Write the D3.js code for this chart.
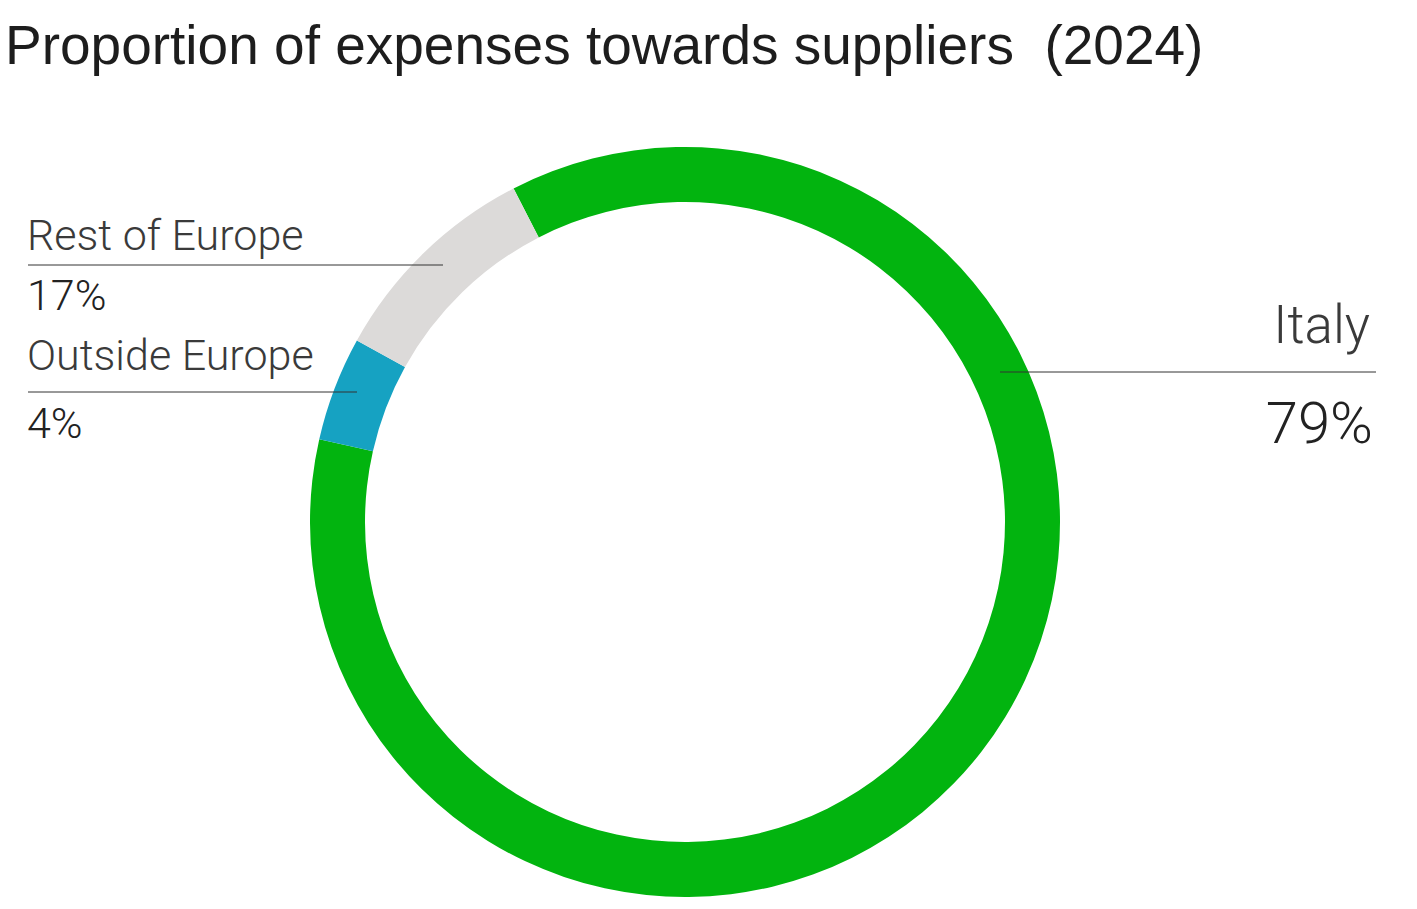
<!DOCTYPE html>
<html>
<head>
<meta charset="utf-8">
<script src="https://cdn.jsdelivr.net/npm/d3@7"></script>
<style>
  body { margin: 0; background: #fff; }
  svg { display: block; }
</style>
</head>
<body>
<svg id="chart"></svg>
<script>
// data
const categories = ["Italy", "Outside Europe", "Rest of Europe"];
const arcShares = [86.1, 4.5, 9.4];      // share of the ring as drawn (%)
const labelPcts = ["79%", "4%", "17%"];   // printed percentages
const colours = ["#02b40f", "#16a2c2", "#dcdad9"];

const width = 1417, height = 909;
const cx = 685, cy = 522;
const outerR = 375, innerR = 320;

const svg = d3.select("#chart")
  .attr("width", width)
  .attr("height", height);

// title
svg.append("text")
  .attr("x", 5)
  .attr("y", 64)
  .attr("font-family", "Liberation Sans, Arial, sans-serif")
  .attr("font-size", 55)
  .attr("fill", "#1d1d1d")
  .attr("xml:space", "preserve")
  .text("Proportion of expenses towards suppliers  (2024)");

// ring, starting at the grey/green seam and running clockwise
const pie = d3.pie()
  .sort(null)
  .startAngle(-27.2 * Math.PI / 180)
  .endAngle((360 - 27.2) * Math.PI / 180);

const arc = d3.arc().innerRadius(innerR).outerRadius(outerR);

svg.append("g")
  .attr("transform", "translate(" + cx + "," + cy + ")")
  .selectAll("path")
  .data(pie(arcShares))
  .enter()
  .append("path")
  .attr("d", arc)
  .attr("fill", function(d, i) { return colours[i]; });

// labels: name above a rule, percentage below
const labelLayout = [
  { anchor: "end",   x: 1370, nameY: 343, lineY: 372, x1: 1000, x2: 1376, pctY: 443, nameSize: 53, pctSize: 58 },
  { anchor: "start", x: 27,   nameY: 370, lineY: 392, x1: 28,   x2: 357,  pctY: 438, nameSize: 43, pctSize: 43 },
  { anchor: "start", x: 27,   nameY: 250, lineY: 265, x1: 28,   x2: 443,  pctY: 310, nameSize: 43, pctSize: 43 }
];

const labels = svg.append("g")
  .attr("font-family", "Roboto, Inter, sans-serif")
  .attr("font-weight", 300)
  .attr("fill", "#3a3a3a")
  .selectAll("g")
  .data(labelLayout)
  .enter()
  .append("g");

labels.append("line")
  .attr("x1", d => d.x1)
  .attr("x2", d => d.x2)
  .attr("y1", d => d.lineY)
  .attr("y2", d => d.lineY)
  .attr("stroke", "#333")
  .attr("stroke-width", 1);

labels.append("text")
  .attr("x", d => d.x)
  .attr("y", d => d.nameY)
  .attr("text-anchor", d => d.anchor)
  .attr("font-size", d => d.nameSize)
  .text((d, i) => categories[i]);

labels.append("text")
  .attr("x", d => d.anchor === "end" ? d.x + 3 : d.x)
  .attr("y", d => d.pctY)
  .attr("text-anchor", d => d.anchor)
  .attr("font-size", d => d.pctSize)
  .attr("fill", "#222")
  .text((d, i) => labelPcts[i]);
</script>
</body>
</html>
